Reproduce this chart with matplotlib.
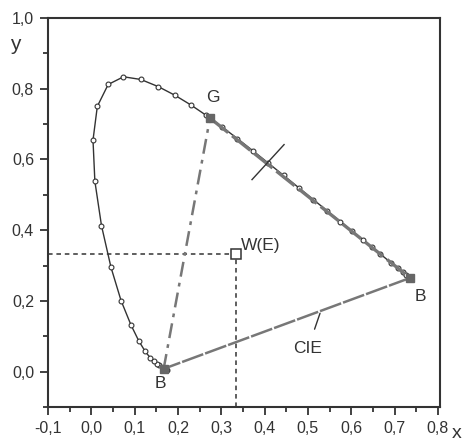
import matplotlib
matplotlib.use("Agg")
import matplotlib.pyplot as plt
from matplotlib.ticker import FixedLocator, MultipleLocator

plt.rcParams['font.family'] = ['Liberation Sans', 'DejaVu Sans']

# CIE 1931 spectral locus (x, y), 5 nm steps from 460 nm to 650 nm plus the ends
locus_x = [0.1741, 0.1733, 0.1714, 0.1689, 0.1644, 0.1566, 0.1510, 0.1440, 0.1355,
           0.1241, 0.1096, 0.0913, 0.0687, 0.0454, 0.0235, 0.0082, 0.0039, 0.0139,
           0.0389, 0.0743, 0.1142, 0.1547, 0.1929, 0.2296, 0.2658, 0.3016, 0.3373,
           0.3731, 0.4087, 0.4441, 0.4788, 0.5125, 0.5448, 0.5752, 0.6029, 0.6270,
           0.6482, 0.6658, 0.6915, 0.7079, 0.7190, 0.7260, 0.7347]
locus_y = [0.0050, 0.0048, 0.0051, 0.0069, 0.0109, 0.0177, 0.0227, 0.0297, 0.0399,
           0.0578, 0.0868, 0.1327, 0.2007, 0.2950, 0.4127, 0.5384, 0.6548, 0.7502,
           0.8120, 0.8338, 0.8262, 0.8059, 0.7816, 0.7543, 0.7243, 0.6923, 0.6589,
           0.6245, 0.5896, 0.5547, 0.5202, 0.4866, 0.4544, 0.4242, 0.3965, 0.3725,
           0.3514, 0.3340, 0.3083, 0.2920, 0.2809, 0.2740, 0.2653]

# primaries of the triangle
prim_names = ["G", "B", "B"]
prim_x = [0.274, 0.736, 0.167]
prim_y = [0.717, 0.265, 0.008]

# equal-energy white point
white_x = 0.333
white_y = 0.333

# short cross line on the G-R edge
cross_x = [0.371, 0.445]
cross_y = [0.543, 0.642]

x_ticks = [-0.1, 0.0, 0.1, 0.2, 0.3, 0.4, 0.5, 0.6, 0.7, 0.8]
x_labels = ["-0,1", "0,0", "0,1", "0,2", "0,3", "0,4", "0,5", "0,6", "0,7", "0,8"]
y_ticks = [0.0, 0.2, 0.4, 0.6, 0.8, 1.0]
y_labels = ["0,0", "0,2", "0,4", "0,6", "0,8", "1,0"]

fig = plt.figure(figsize=(4.65, 4.43), dpi=100)
ax = fig.add_axes([48 / 465, 1 - 407 / 443, 392 / 465, 389 / 443])

gray = "#777777"
dark = "#333333"

# spectral locus with wavelength markers
ax.plot(locus_x, locus_y, color=dark, lw=1.0, marker="o", ms=3.5,
        mfc="white", mec=dark, mew=0.8, zorder=2)

# triangle edges
ax.plot([prim_x[0], prim_x[1]], [prim_y[0], prim_y[1]], color=gray, lw=2.4,
        ls=(0, (7, 1.5)), zorder=3)
ax.plot([prim_x[1], prim_x[2]], [prim_y[1], prim_y[2]], color=gray, lw=1.8,
        ls=(0, (9, 0.8)), zorder=3)
ax.plot([prim_x[2], prim_x[0]], [prim_y[2], prim_y[0]], color=gray, lw=1.8,
        ls=(0, (6, 2.5, 1.5, 2.5)), zorder=3)

# primary markers
ax.plot(prim_x, prim_y, ls="none", marker="s", ms=6, color="#666666", zorder=4)

# white point with guide lines
ax.plot([-0.1, white_x], [white_y, white_y], color=dark, lw=1.1, ls=(0, (3, 2.5)))
ax.plot([white_x, white_x], [-0.1, white_y], color=dark, lw=1.1, ls=(0, (3, 2.5)))
ax.plot([white_x], [white_y], ls="none", marker="s", ms=7, mfc="white",
        mec=dark, mew=1.1, zorder=5)

# cross line
ax.plot(cross_x, cross_y, color=dark, lw=1.0, zorder=5)

# labels
txt = dict(color=dark, fontsize=12.5)
ax.text(0.281, 0.776, "G", ha="center", va="center", **txt)
ax.text(0.759, 0.212, "B", ha="center", va="center", **txt)
ax.text(0.159, -0.034, "B", ha="center", va="center", **txt)
ax.text(0.345, 0.358, "W(E)", ha="left", va="center", **txt)
ax.annotate("CIE", xy=(0.528, 0.165), xytext=(0.50, 0.065), ha="center",
            va="center", color=dark, fontsize=12.5,
            arrowprops=dict(arrowstyle="-", color=dark, lw=1.0, shrinkB=0,
                            shrinkA=7))

ax.set_xlim(-0.1, 0.805)
ax.set_ylim(-0.1, 1.0)
ax.xaxis.set_major_locator(FixedLocator(x_ticks))
ax.set_xticklabels(x_labels)
ax.xaxis.set_minor_locator(MultipleLocator(0.05))
ax.yaxis.set_major_locator(FixedLocator(y_ticks))
ax.set_yticklabels(y_labels)
ax.yaxis.set_minor_locator(MultipleLocator(0.1))

for sp in ax.spines.values():
    sp.set_color(dark)
    sp.set_linewidth(1.5)
ax.tick_params(which="major", direction="out", length=6, width=1.3,
               color=dark, labelsize=11.5, labelcolor=dark, pad=4)
ax.tick_params(which="minor", direction="out", length=3.5, width=1.3, color=dark)

fig.text(15 / 465, 1 - 45 / 443, "y", fontsize=15, color=dark, ha="center", va="center")
fig.text(457 / 465, 1 - 434 / 443, "x", fontsize=14, color=dark, ha="center", va="center")

fig.savefig("out.png", dpi=100)
